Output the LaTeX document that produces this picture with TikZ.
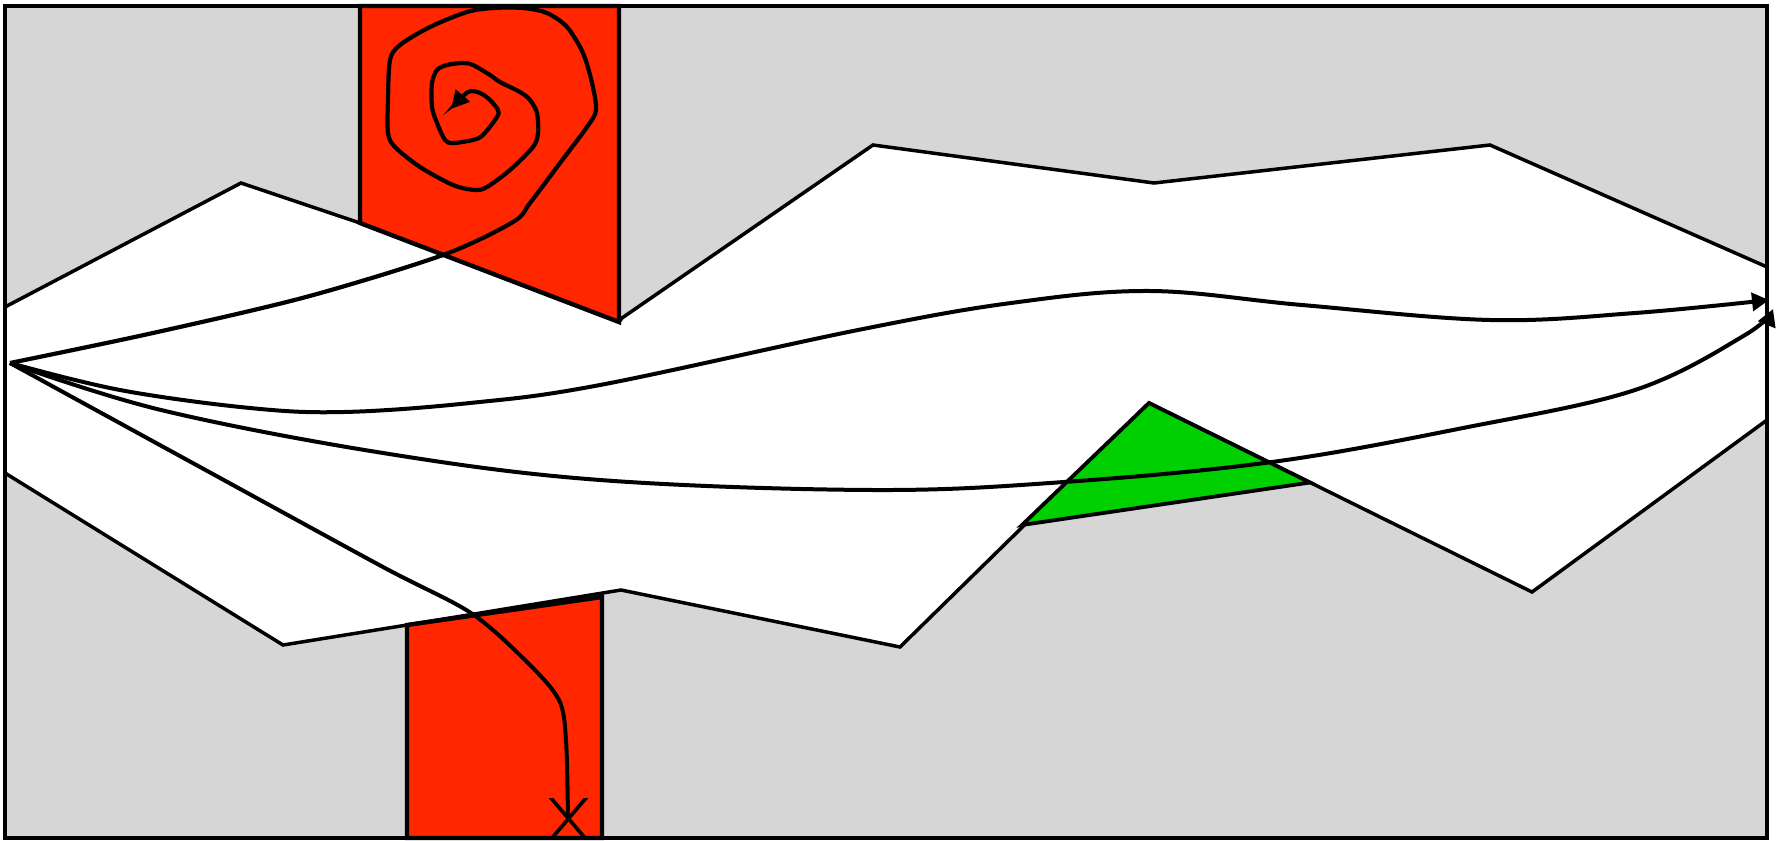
\documentclass[tikz,border=0pt]{standalone}
\usetikzlibrary{arrows.meta}
\definecolor{bggray}{RGB}{214,214,214}
\definecolor{redfill}{RGB}{255,38,0}
\definecolor{greenfill}{RGB}{0,208,0}
\begin{document}
\begin{tikzpicture}[x=0.5pt,y=-0.5pt,line join=miter,
  bound/.style={line width=1.75pt,draw=black},
  edge/.style={line width=2.2pt,draw=black},
  curve/.style={line width=2pt,draw=black},
  redbox/.style={fill=redfill,draw=black,line width=2.2pt},
  greenbox/.style={fill=greenfill,draw=black,line width=1.9pt},
  tipA/.style={-{Triangle[length=8.5pt,width=9pt]}},
  tipS/.style={-{Triangle[length=9pt,width=9pt]}},
  xmark/.style={line width=1.8pt,draw=black}]
\useasboundingbox (0,0) rectangle (1776,840);
% background
\draw[line width=1.6pt,fill=bggray] (5,6) rectangle (1767,838);
% white band
\fill[white] (5,307) -- (241,183) -- (360,223) -- (619,322) -- (622,318) -- (873,145) -- (1154,183) -- (1490,145) -- (1767,267) -- (1767,420) -- (1532,592) -- (1149,403) -- (900,647) -- (621,590) -- (407,625) -- (283,645) -- (5,473) -- cycle;
\draw[bound] (5,307) -- (241,183) -- (360,223) -- (619,322) -- (622,318) -- (873,145) -- (1154,183) -- (1490,145) -- (1767,267);
\draw[bound] (5,473) -- (283,645) -- (407,625) -- (621,590) -- (900,647) -- (1149,403) -- (1532,592) -- (1767,420);
\draw[edge] (5,283) -- (5,473);
\draw[edge] (1767,252) -- (1767,420);
% red blocks
\draw[redbox] (360,6) -- (619,6) -- (619,322) -- (360,223) -- cycle;
\draw[redbox] (407,625) -- (602,597) -- (602,838) -- (407,838) -- cycle;
% green triangle
\draw[greenbox] (1022,525) -- (1149,403) -- (1310,482.5) -- cycle;
% curves
\coordinate (fan) at (10,363);
\draw[curve,line width=2.1pt,tipS] plot[smooth,tension=0.5] coordinates {
(10,363) (153,333) (306,297) (443,255) (513,222) (530,203) (560,163) (587,127) (596,110) (592,83) (583,53) (567,27) (547,13) (523,8) (493,8) (467,12) (430,27) (400,45) (390,60) (388,100) (388,133) (395,147) (420,167) (453,185) (475,190) (487,187) (510,170) (533,147) (538,133) (537,113) (530,100) (520,92) (500,82) (490,75) (473,65) (463,63) (447,65) (437,70) (432,83) (432,107) (437,123) (445,140) (453,143) (473,140) (483,135) (497,117) (498,110) (490,100) (480,93) (468,92) (451,109)};
\draw[curve,tipA] plot[smooth,tension=0.6] coordinates {
(10,363) (120,390) (250,408) (344,412) (470,403) (600,385) (858,330) (1011,303) (1150,291) (1302,305) (1490,320) (1635,313) (1769,300)};
\draw[curve,tipA] plot[smooth,tension=0.6] coordinates {
(10,363) (161,410) (383,453) (600,480) (873,490) (1064,482) (1272,462) (1463,428) (1635,390) (1745,335) (1773,309)};
\draw[curve] plot[smooth,tension=0.5] coordinates {
(10,363) (200,467) (383,567) (471,613) (528,663) (559,700) (566,740) (568,818)};
% X mark
\begin{scope}
\clip (530,798) rectangle (610,838);
\draw[xmark] (545,791) -- (591,845);
\draw[xmark] (592,791) -- (546,845);
\end{scope}
\end{tikzpicture}
\end{document}
